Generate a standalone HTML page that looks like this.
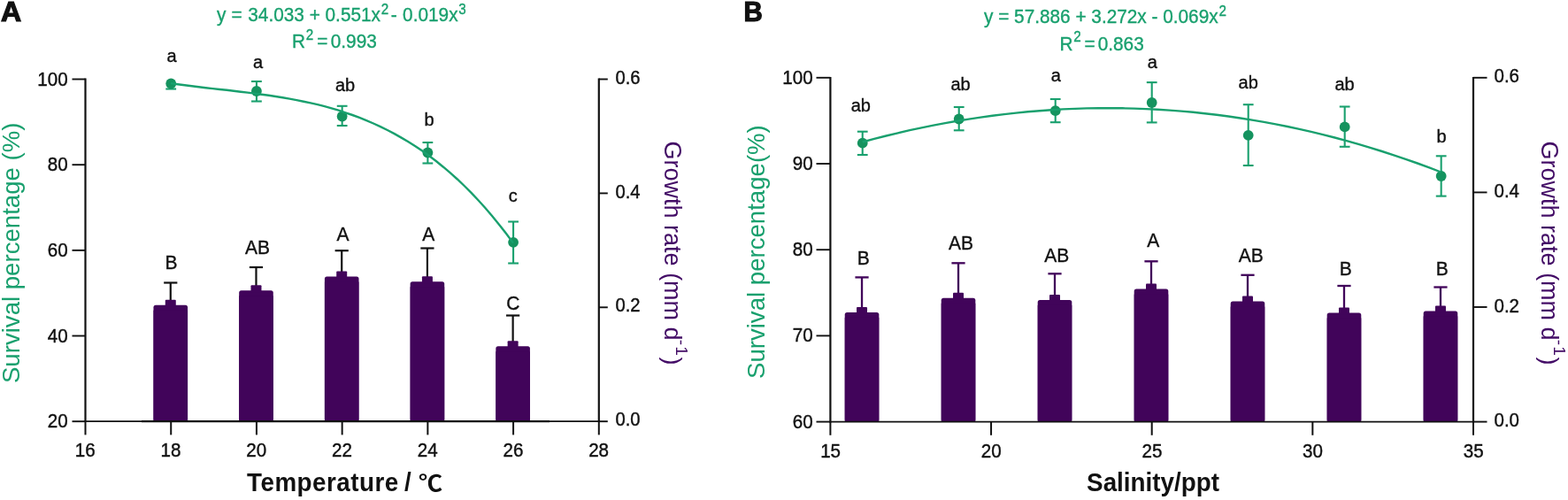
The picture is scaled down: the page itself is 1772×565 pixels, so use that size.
<!DOCTYPE html>
<html lang="en">
<head>
<meta charset="utf-8">
<title>Survival percentage and growth rate</title>
<style>
html, body { margin: 0; padding: 0; background: #ffffff; }
body { width: 1772px; height: 565px; overflow: hidden; font-family: "Liberation Sans", sans-serif; }
svg { display: block; }
svg text { font-family: "Liberation Sans", sans-serif; }
svg .cjk { font-family: "Liberation Sans", "Noto Sans CJK SC", sans-serif; }
</style>
</head>
<body>
<svg width="1772" height="565" viewBox="0 0 1772 565">
<rect width="1772" height="565" fill="#ffffff"/>
<g id="panelA">
<g class="bars">
<rect x="173.47" y="344.7" width="38.6" height="131.5" rx="2.5" fill="#41045a"/>
<rect x="173.47" y="350.7" width="38.6" height="125.5" fill="#41045a"/>
<line x1="192.77" y1="319.5" x2="192.77" y2="341.7" stroke="#111111" stroke-width="2.2"/>
<line x1="185.17" y1="319.5" x2="200.37" y2="319.5" stroke="#111111" stroke-width="2.2"/>
<rect x="186.77" y="338.7" width="12" height="8" rx="1" fill="#41045a"/>
<rect x="270.18" y="328.2" width="38.6" height="148" rx="2.5" fill="#41045a"/>
<rect x="270.18" y="334.2" width="38.6" height="142" fill="#41045a"/>
<line x1="289.48" y1="302" x2="289.48" y2="325.2" stroke="#111111" stroke-width="2.2"/>
<line x1="281.88" y1="302" x2="297.08" y2="302" stroke="#111111" stroke-width="2.2"/>
<rect x="283.48" y="322.2" width="12" height="8" rx="1" fill="#41045a"/>
<rect x="366.9" y="312.5" width="38.6" height="163.7" rx="2.5" fill="#41045a"/>
<rect x="366.9" y="318.5" width="38.6" height="157.7" fill="#41045a"/>
<line x1="386.2" y1="283.2" x2="386.2" y2="309.5" stroke="#111111" stroke-width="2.2"/>
<line x1="378.6" y1="283.2" x2="393.8" y2="283.2" stroke="#111111" stroke-width="2.2"/>
<rect x="380.2" y="306.5" width="12" height="8" rx="1" fill="#41045a"/>
<rect x="463.62" y="318.2" width="38.6" height="158" rx="2.5" fill="#41045a"/>
<rect x="463.62" y="324.2" width="38.6" height="152" fill="#41045a"/>
<line x1="482.92" y1="280.5" x2="482.92" y2="315.2" stroke="#111111" stroke-width="2.2"/>
<line x1="475.32" y1="280.5" x2="490.52" y2="280.5" stroke="#111111" stroke-width="2.2"/>
<rect x="476.92" y="312.2" width="12" height="8" rx="1" fill="#41045a"/>
<rect x="560.33" y="391.2" width="38.6" height="85" rx="2.5" fill="#41045a"/>
<rect x="560.33" y="397.2" width="38.6" height="79" fill="#41045a"/>
<line x1="579.63" y1="356.5" x2="579.63" y2="388.2" stroke="#111111" stroke-width="2.2"/>
<line x1="572.03" y1="356.5" x2="587.23" y2="356.5" stroke="#111111" stroke-width="2.2"/>
<rect x="573.63" y="385.2" width="12" height="8" rx="1" fill="#41045a"/>
</g>
<g class="axes">
<line x1="96.5" y1="88.6" x2="96.5" y2="477.1" stroke="#111111" stroke-width="2.2"/>
<line x1="676.8" y1="88.6" x2="676.8" y2="477.1" stroke="#111111" stroke-width="2.2"/>
<line x1="95.5" y1="476.2" x2="677.8" y2="476.2" stroke="#111111" stroke-width="1.8"/>
<line x1="160" y1="476.1" x2="621" y2="476.1" stroke="#111111" stroke-width="2.4"/>
<line x1="81.5" y1="476.2" x2="96.5" y2="476.2" stroke="#111111" stroke-width="1.9"/>
<text transform="translate(76.7 483.25) scale(1 1.075)" font-size="20.6" fill="#111111" text-anchor="end" stroke="#111111" stroke-width="0.4">20</text>
<line x1="81.5" y1="379.52" x2="96.5" y2="379.52" stroke="#111111" stroke-width="1.9"/>
<text transform="translate(76.7 386.57) scale(1 1.075)" font-size="20.6" fill="#111111" text-anchor="end" stroke="#111111" stroke-width="0.4">40</text>
<line x1="81.5" y1="282.85" x2="96.5" y2="282.85" stroke="#111111" stroke-width="1.9"/>
<text transform="translate(76.7 289.9) scale(1 1.075)" font-size="20.6" fill="#111111" text-anchor="end" stroke="#111111" stroke-width="0.4">60</text>
<line x1="81.5" y1="186.18" x2="96.5" y2="186.18" stroke="#111111" stroke-width="1.9"/>
<text transform="translate(76.7 193.23) scale(1 1.075)" font-size="20.6" fill="#111111" text-anchor="end" stroke="#111111" stroke-width="0.4">80</text>
<line x1="81.5" y1="89.5" x2="96.5" y2="89.5" stroke="#111111" stroke-width="1.9"/>
<text transform="translate(76.7 96.55) scale(1 1.075)" font-size="20.6" fill="#111111" text-anchor="end" stroke="#111111" stroke-width="0.4">100</text>
<line x1="676.8" y1="476.2" x2="686.8" y2="476.2" stroke="#111111" stroke-width="1.9"/>
<text transform="translate(695.4 481.3) scale(1 1.075)" font-size="20.200000000000003" fill="#111111" stroke="#111111" stroke-width="0.4">0.0</text>
<line x1="676.8" y1="347.3" x2="686.8" y2="347.3" stroke="#111111" stroke-width="1.9"/>
<text transform="translate(695.4 352.4) scale(1 1.075)" font-size="20.200000000000003" fill="#111111" stroke="#111111" stroke-width="0.4">0.2</text>
<line x1="676.8" y1="218.4" x2="686.8" y2="218.4" stroke="#111111" stroke-width="1.9"/>
<text transform="translate(695.4 223.5) scale(1 1.075)" font-size="20.200000000000003" fill="#111111" stroke="#111111" stroke-width="0.4">0.4</text>
<line x1="676.8" y1="89.5" x2="686.8" y2="89.5" stroke="#111111" stroke-width="1.9"/>
<text transform="translate(695.4 94.6) scale(1 1.075)" font-size="20.200000000000003" fill="#111111" stroke="#111111" stroke-width="0.4">0.6</text>
<line x1="96.5" y1="476.2" x2="96.5" y2="491.4" stroke="#111111" stroke-width="2"/>
<text transform="translate(96.3 516.2) scale(1 1.075)" font-size="20.6" fill="#111111" text-anchor="middle" stroke="#111111" stroke-width="0.4">16</text>
<line x1="193.22" y1="476.2" x2="193.22" y2="491.4" stroke="#111111" stroke-width="2"/>
<text transform="translate(193.02 516.2) scale(1 1.075)" font-size="20.6" fill="#111111" text-anchor="middle" stroke="#111111" stroke-width="0.4">18</text>
<line x1="289.93" y1="476.2" x2="289.93" y2="491.4" stroke="#111111" stroke-width="2"/>
<text transform="translate(289.73 516.2) scale(1 1.075)" font-size="20.6" fill="#111111" text-anchor="middle" stroke="#111111" stroke-width="0.4">20</text>
<line x1="386.65" y1="476.2" x2="386.65" y2="491.4" stroke="#111111" stroke-width="2"/>
<text transform="translate(386.45 516.2) scale(1 1.075)" font-size="20.6" fill="#111111" text-anchor="middle" stroke="#111111" stroke-width="0.4">22</text>
<line x1="483.37" y1="476.2" x2="483.37" y2="491.4" stroke="#111111" stroke-width="2"/>
<text transform="translate(483.17 516.2) scale(1 1.075)" font-size="20.6" fill="#111111" text-anchor="middle" stroke="#111111" stroke-width="0.4">24</text>
<line x1="580.08" y1="476.2" x2="580.08" y2="491.4" stroke="#111111" stroke-width="2"/>
<text transform="translate(579.88 516.2) scale(1 1.075)" font-size="20.6" fill="#111111" text-anchor="middle" stroke="#111111" stroke-width="0.4">26</text>
<line x1="676.8" y1="476.2" x2="676.8" y2="491.4" stroke="#111111" stroke-width="2"/>
<text transform="translate(676.6 516.2) scale(1 1.075)" font-size="20.6" fill="#111111" text-anchor="middle" stroke="#111111" stroke-width="0.4">28</text>
</g>
<g class="points">
<line x1="193.22" y1="94.5" x2="193.22" y2="100.5" stroke="#19a06e" stroke-width="2.1"/>
<line x1="187.32" y1="100.5" x2="199.12" y2="100.5" stroke="#19a06e" stroke-width="2.1"/>
<circle cx="193.22" cy="94.5" r="5.9" fill="#15935f"/>
<line x1="289.93" y1="92" x2="289.93" y2="114.5" stroke="#19a06e" stroke-width="2.1"/>
<line x1="284.03" y1="92" x2="295.83" y2="92" stroke="#19a06e" stroke-width="2.1"/>
<line x1="284.03" y1="114.5" x2="295.83" y2="114.5" stroke="#19a06e" stroke-width="2.1"/>
<circle cx="289.93" cy="103" r="5.9" fill="#15935f"/>
<line x1="386.65" y1="119.8" x2="386.65" y2="142" stroke="#19a06e" stroke-width="2.1"/>
<line x1="380.75" y1="119.8" x2="392.55" y2="119.8" stroke="#19a06e" stroke-width="2.1"/>
<line x1="380.75" y1="142" x2="392.55" y2="142" stroke="#19a06e" stroke-width="2.1"/>
<circle cx="386.65" cy="131.5" r="5.9" fill="#15935f"/>
<line x1="483.37" y1="161" x2="483.37" y2="184.5" stroke="#19a06e" stroke-width="2.1"/>
<line x1="477.47" y1="161" x2="489.27" y2="161" stroke="#19a06e" stroke-width="2.1"/>
<line x1="477.47" y1="184.5" x2="489.27" y2="184.5" stroke="#19a06e" stroke-width="2.1"/>
<circle cx="483.37" cy="172.5" r="5.9" fill="#15935f"/>
<line x1="580.08" y1="250.5" x2="580.08" y2="297.5" stroke="#19a06e" stroke-width="2.1"/>
<line x1="574.18" y1="250.5" x2="585.98" y2="250.5" stroke="#19a06e" stroke-width="2.1"/>
<line x1="574.18" y1="297.5" x2="585.98" y2="297.5" stroke="#19a06e" stroke-width="2.1"/>
<circle cx="580.08" cy="273.8" r="5.9" fill="#15935f"/>
</g>
<path d="M193.0,94.1 L200.9,95.2 L208.8,96.3 L216.7,97.3 L224.6,98.2 L232.5,99.2 L240.4,100.1 L248.3,101.0 L256.2,101.8 L264.1,102.7 L272.0,103.7 L279.9,104.6 L287.8,105.6 L295.7,106.7 L303.6,107.8 L311.5,109.0 L319.4,110.2 L327.3,111.6 L335.2,113.1 L343.1,114.7 L351.0,116.4 L358.9,118.2 L366.8,120.2 L374.7,122.4 L382.6,124.7 L390.4,127.3 L398.3,130.0 L406.2,132.9 L414.1,136.1 L422.0,139.5 L429.9,143.1 L437.8,147.0 L445.7,151.1 L453.6,155.6 L461.5,160.3 L469.4,165.3 L477.3,170.6 L485.2,176.3 L493.1,182.3 L501.0,188.7 L508.9,195.4 L516.8,202.5 L524.7,210.0 L532.6,217.9 L540.5,226.3 L548.4,235.0 L556.3,244.2 L564.2,253.9 L572.1,264.0 L580.0,274.6" fill="none" stroke="#19a06e" stroke-width="2.4"/>
<g class="letters">
<text x="194.1" y="69.7" font-size="20.0" fill="#111111" text-anchor="middle" stroke="#111111" stroke-width="0.35">a</text>
<text x="291.5" y="77" font-size="20.0" fill="#111111" text-anchor="middle" stroke="#111111" stroke-width="0.35">a</text>
<text x="390" y="103.1" font-size="20.0" fill="#111111" text-anchor="middle" stroke="#111111" stroke-width="0.35">ab</text>
<text x="485" y="142.4" font-size="20.0" fill="#111111" text-anchor="middle" stroke="#111111" stroke-width="0.35">b</text>
<text x="579.7" y="228" font-size="20.0" fill="#111111" text-anchor="middle" stroke="#111111" stroke-width="0.35">c</text>
<text transform="translate(193.4 303.8) scale(1 1.07)" font-size="21.0" fill="#111111" text-anchor="middle" stroke="#111111" stroke-width="0.35">B</text>
<text transform="translate(290.9 287.1) scale(1 1.07)" font-size="21.0" fill="#111111" text-anchor="middle" stroke="#111111" stroke-width="0.35">AB</text>
<text transform="translate(387.4 271.5) scale(1 1.07)" font-size="21.0" fill="#111111" text-anchor="middle" stroke="#111111" stroke-width="0.35">A</text>
<text transform="translate(484.3 271.5) scale(1 1.07)" font-size="21.0" fill="#111111" text-anchor="middle" stroke="#111111" stroke-width="0.35">A</text>
<text transform="translate(579.7 349.8) scale(1 1.07)" font-size="21.0" fill="#111111" text-anchor="middle" stroke="#111111" stroke-width="0.35">C</text>
</g>
</g>
<g id="panelB">
<g class="bars">
<rect x="954.73" y="352.9" width="38.6" height="123.7" rx="2.5" fill="#41045a"/>
<rect x="954.73" y="358.9" width="38.6" height="117.7" fill="#41045a"/>
<line x1="974.03" y1="313.4" x2="974.03" y2="349.9" stroke="#41045a" stroke-width="2.3"/>
<line x1="966.43" y1="313.4" x2="981.63" y2="313.4" stroke="#41045a" stroke-width="2.3"/>
<rect x="968.03" y="346.9" width="12" height="8" rx="1" fill="#41045a"/>
<rect x="1063.72" y="336.8" width="38.6" height="139.8" rx="2.5" fill="#41045a"/>
<rect x="1063.72" y="342.8" width="38.6" height="133.8" fill="#41045a"/>
<line x1="1083.02" y1="297.3" x2="1083.02" y2="333.8" stroke="#41045a" stroke-width="2.3"/>
<line x1="1075.42" y1="297.3" x2="1090.62" y2="297.3" stroke="#41045a" stroke-width="2.3"/>
<rect x="1077.02" y="330.8" width="12" height="8" rx="1" fill="#41045a"/>
<rect x="1172.71" y="338.9" width="38.6" height="137.7" rx="2.5" fill="#41045a"/>
<rect x="1172.71" y="344.9" width="38.6" height="131.7" fill="#41045a"/>
<line x1="1192.01" y1="309.3" x2="1192.01" y2="335.9" stroke="#41045a" stroke-width="2.3"/>
<line x1="1184.41" y1="309.3" x2="1199.61" y2="309.3" stroke="#41045a" stroke-width="2.3"/>
<rect x="1186.01" y="332.9" width="12" height="8" rx="1" fill="#41045a"/>
<rect x="1281.7" y="326.6" width="38.6" height="150" rx="2.5" fill="#41045a"/>
<rect x="1281.7" y="332.6" width="38.6" height="144" fill="#41045a"/>
<line x1="1301" y1="295.3" x2="1301" y2="323.6" stroke="#41045a" stroke-width="2.3"/>
<line x1="1293.4" y1="295.3" x2="1308.6" y2="295.3" stroke="#41045a" stroke-width="2.3"/>
<rect x="1295" y="320.6" width="12" height="8" rx="1" fill="#41045a"/>
<rect x="1390.69" y="340.6" width="38.6" height="136" rx="2.5" fill="#41045a"/>
<rect x="1390.69" y="346.6" width="38.6" height="130" fill="#41045a"/>
<line x1="1409.99" y1="310.8" x2="1409.99" y2="337.6" stroke="#41045a" stroke-width="2.3"/>
<line x1="1402.39" y1="310.8" x2="1417.59" y2="310.8" stroke="#41045a" stroke-width="2.3"/>
<rect x="1403.99" y="334.6" width="12" height="8" rx="1" fill="#41045a"/>
<rect x="1499.68" y="353.4" width="38.6" height="123.2" rx="2.5" fill="#41045a"/>
<rect x="1499.68" y="359.4" width="38.6" height="117.2" fill="#41045a"/>
<line x1="1518.98" y1="323" x2="1518.98" y2="350.4" stroke="#41045a" stroke-width="2.3"/>
<line x1="1511.38" y1="323" x2="1526.58" y2="323" stroke="#41045a" stroke-width="2.3"/>
<rect x="1512.98" y="347.4" width="12" height="8" rx="1" fill="#41045a"/>
<rect x="1608.67" y="351.4" width="38.6" height="125.2" rx="2.5" fill="#41045a"/>
<rect x="1608.67" y="357.4" width="38.6" height="119.2" fill="#41045a"/>
<line x1="1627.97" y1="324.5" x2="1627.97" y2="348.4" stroke="#41045a" stroke-width="2.3"/>
<line x1="1620.37" y1="324.5" x2="1635.57" y2="324.5" stroke="#41045a" stroke-width="2.3"/>
<rect x="1621.97" y="345.4" width="12" height="8" rx="1" fill="#41045a"/>
</g>
<g class="axes">
<line x1="938.4" y1="86.9" x2="938.4" y2="477.5" stroke="#111111" stroke-width="2.2"/>
<line x1="1665" y1="86.9" x2="1665" y2="477.5" stroke="#111111" stroke-width="2.2"/>
<line x1="937.4" y1="476.6" x2="1666" y2="476.6" stroke="#111111" stroke-width="1.8"/>
<line x1="922.5" y1="476.6" x2="938.4" y2="476.6" stroke="#111111" stroke-width="1.9"/>
<text transform="translate(918.6 483.65) scale(1 1.075)" font-size="20.6" fill="#111111" text-anchor="end" stroke="#111111" stroke-width="0.4">60</text>
<line x1="922.5" y1="379.4" x2="938.4" y2="379.4" stroke="#111111" stroke-width="1.9"/>
<text transform="translate(918.6 386.45) scale(1 1.075)" font-size="20.6" fill="#111111" text-anchor="end" stroke="#111111" stroke-width="0.4">70</text>
<line x1="922.5" y1="282.2" x2="938.4" y2="282.2" stroke="#111111" stroke-width="1.9"/>
<text transform="translate(918.6 289.25) scale(1 1.075)" font-size="20.6" fill="#111111" text-anchor="end" stroke="#111111" stroke-width="0.4">80</text>
<line x1="922.5" y1="185" x2="938.4" y2="185" stroke="#111111" stroke-width="1.9"/>
<text transform="translate(918.6 192.05) scale(1 1.075)" font-size="20.6" fill="#111111" text-anchor="end" stroke="#111111" stroke-width="0.4">90</text>
<line x1="922.5" y1="87.8" x2="938.4" y2="87.8" stroke="#111111" stroke-width="1.9"/>
<text transform="translate(918.6 94.85) scale(1 1.075)" font-size="20.6" fill="#111111" text-anchor="end" stroke="#111111" stroke-width="0.4">100</text>
<line x1="1665" y1="476.6" x2="1680.5" y2="476.6" stroke="#111111" stroke-width="1.9"/>
<text transform="translate(1688.5 482.1) scale(1 1.075)" font-size="20.500000000000004" fill="#111111" stroke="#111111" stroke-width="0.4">0.0</text>
<line x1="1665" y1="347" x2="1680.5" y2="347" stroke="#111111" stroke-width="1.9"/>
<text transform="translate(1688.5 352.5) scale(1 1.075)" font-size="20.500000000000004" fill="#111111" stroke="#111111" stroke-width="0.4">0.2</text>
<line x1="1665" y1="217.4" x2="1680.5" y2="217.4" stroke="#111111" stroke-width="1.9"/>
<text transform="translate(1688.5 222.9) scale(1 1.075)" font-size="20.500000000000004" fill="#111111" stroke="#111111" stroke-width="0.4">0.4</text>
<line x1="1665" y1="87.8" x2="1680.5" y2="87.8" stroke="#111111" stroke-width="1.9"/>
<text transform="translate(1688.5 93.3) scale(1 1.075)" font-size="20.500000000000004" fill="#111111" stroke="#111111" stroke-width="0.4">0.6</text>
<line x1="938.4" y1="476.6" x2="938.4" y2="491.8" stroke="#111111" stroke-width="2"/>
<text transform="translate(938.6 516.6) scale(1 1.075)" font-size="20.6" fill="#111111" text-anchor="middle" stroke="#111111" stroke-width="0.4">15</text>
<line x1="1120.05" y1="476.6" x2="1120.05" y2="491.8" stroke="#111111" stroke-width="2"/>
<text transform="translate(1120.25 516.6) scale(1 1.075)" font-size="20.6" fill="#111111" text-anchor="middle" stroke="#111111" stroke-width="0.4">20</text>
<line x1="1301.7" y1="476.6" x2="1301.7" y2="491.8" stroke="#111111" stroke-width="2"/>
<text transform="translate(1301.9 516.6) scale(1 1.075)" font-size="20.6" fill="#111111" text-anchor="middle" stroke="#111111" stroke-width="0.4">25</text>
<line x1="1483.35" y1="476.6" x2="1483.35" y2="491.8" stroke="#111111" stroke-width="2"/>
<text transform="translate(1483.55 516.6) scale(1 1.075)" font-size="20.6" fill="#111111" text-anchor="middle" stroke="#111111" stroke-width="0.4">30</text>
<line x1="1665" y1="476.6" x2="1665" y2="491.8" stroke="#111111" stroke-width="2"/>
<text transform="translate(1665.2 516.6) scale(1 1.075)" font-size="20.6" fill="#111111" text-anchor="middle" stroke="#111111" stroke-width="0.4">35</text>
</g>
<g class="points">
<line x1="974.73" y1="148.7" x2="974.73" y2="175" stroke="#19a06e" stroke-width="2.1"/>
<line x1="968.83" y1="148.7" x2="980.63" y2="148.7" stroke="#19a06e" stroke-width="2.1"/>
<line x1="968.83" y1="175" x2="980.63" y2="175" stroke="#19a06e" stroke-width="2.1"/>
<circle cx="974.73" cy="161.7" r="5.9" fill="#15935f"/>
<line x1="1083.72" y1="121" x2="1083.72" y2="147.3" stroke="#19a06e" stroke-width="2.1"/>
<line x1="1077.82" y1="121" x2="1089.62" y2="121" stroke="#19a06e" stroke-width="2.1"/>
<line x1="1077.82" y1="147.3" x2="1089.62" y2="147.3" stroke="#19a06e" stroke-width="2.1"/>
<circle cx="1083.72" cy="134.5" r="5.9" fill="#15935f"/>
<line x1="1192.71" y1="112" x2="1192.71" y2="138.2" stroke="#19a06e" stroke-width="2.1"/>
<line x1="1186.81" y1="112" x2="1198.61" y2="112" stroke="#19a06e" stroke-width="2.1"/>
<line x1="1186.81" y1="138.2" x2="1198.61" y2="138.2" stroke="#19a06e" stroke-width="2.1"/>
<circle cx="1192.71" cy="125.2" r="5.9" fill="#15935f"/>
<line x1="1301.7" y1="93.1" x2="1301.7" y2="138.4" stroke="#19a06e" stroke-width="2.1"/>
<line x1="1295.8" y1="93.1" x2="1307.6" y2="93.1" stroke="#19a06e" stroke-width="2.1"/>
<line x1="1295.8" y1="138.4" x2="1307.6" y2="138.4" stroke="#19a06e" stroke-width="2.1"/>
<circle cx="1301.7" cy="116" r="5.9" fill="#15935f"/>
<line x1="1410.69" y1="118.2" x2="1410.69" y2="187" stroke="#19a06e" stroke-width="2.1"/>
<line x1="1404.79" y1="118.2" x2="1416.59" y2="118.2" stroke="#19a06e" stroke-width="2.1"/>
<line x1="1404.79" y1="187" x2="1416.59" y2="187" stroke="#19a06e" stroke-width="2.1"/>
<circle cx="1410.69" cy="152.8" r="5.9" fill="#15935f"/>
<line x1="1519.68" y1="120.5" x2="1519.68" y2="165.8" stroke="#19a06e" stroke-width="2.1"/>
<line x1="1513.78" y1="120.5" x2="1525.58" y2="120.5" stroke="#19a06e" stroke-width="2.1"/>
<line x1="1513.78" y1="165.8" x2="1525.58" y2="165.8" stroke="#19a06e" stroke-width="2.1"/>
<circle cx="1519.68" cy="143.4" r="5.9" fill="#15935f"/>
<line x1="1628.67" y1="176.3" x2="1628.67" y2="221.6" stroke="#19a06e" stroke-width="2.1"/>
<line x1="1622.77" y1="176.3" x2="1634.57" y2="176.3" stroke="#19a06e" stroke-width="2.1"/>
<line x1="1622.77" y1="221.6" x2="1634.57" y2="221.6" stroke="#19a06e" stroke-width="2.1"/>
<circle cx="1628.67" cy="199" r="5.9" fill="#15935f"/>
</g>
<path d="M974.7,160.5 L988.0,156.9 L1001.4,153.5 L1014.7,150.3 L1028.1,147.2 L1041.4,144.4 L1054.8,141.6 L1068.1,139.1 L1081.4,136.7 L1094.8,134.6 L1108.1,132.6 L1121.5,130.7 L1134.8,129.1 L1148.2,127.6 L1161.5,126.3 L1174.8,125.2 L1188.2,124.2 L1201.5,123.4 L1214.9,122.9 L1228.2,122.4 L1241.6,122.2 L1254.9,122.2 L1268.2,122.3 L1281.6,122.6 L1294.9,123.1 L1308.3,123.7 L1321.6,124.6 L1335.0,125.6 L1348.3,126.8 L1361.6,128.2 L1375.0,129.8 L1388.3,131.5 L1401.7,133.5 L1415.0,135.6 L1428.4,137.9 L1441.7,140.4 L1455.0,143.0 L1468.4,145.9 L1481.7,148.9 L1495.1,152.1 L1508.4,155.5 L1521.8,159.1 L1535.1,162.9 L1548.4,166.9 L1561.8,171.0 L1575.1,175.3 L1588.5,179.8 L1601.8,184.5 L1615.2,189.4 L1628.5,194.5" fill="none" stroke="#19a06e" stroke-width="2.4"/>
<g class="letters">
<text x="972.8" y="125.7" font-size="20.0" fill="#111111" text-anchor="middle" stroke="#111111" stroke-width="0.35">ab</text>
<text x="1085.5" y="101.8" font-size="20.0" fill="#111111" text-anchor="middle" stroke="#111111" stroke-width="0.35">ab</text>
<text x="1193.3" y="92.1" font-size="20.0" fill="#111111" text-anchor="middle" stroke="#111111" stroke-width="0.35">a</text>
<text x="1302.2" y="76.5" font-size="20.0" fill="#111111" text-anchor="middle" stroke="#111111" stroke-width="0.35">a</text>
<text x="1410.7" y="100.1" font-size="20.0" fill="#111111" text-anchor="middle" stroke="#111111" stroke-width="0.35">ab</text>
<text x="1519.5" y="101.7" font-size="20.0" fill="#111111" text-anchor="middle" stroke="#111111" stroke-width="0.35">ab</text>
<text x="1629.1" y="161.1" font-size="20.0" fill="#111111" text-anchor="middle" stroke="#111111" stroke-width="0.35">b</text>
<text transform="translate(975.8 299.2) scale(1 1.07)" font-size="21.0" fill="#111111" text-anchor="middle" stroke="#111111" stroke-width="0.35">B</text>
<text transform="translate(1086 282.2) scale(1 1.07)" font-size="21.0" fill="#111111" text-anchor="middle" stroke="#111111" stroke-width="0.35">AB</text>
<text transform="translate(1194.3 295.7) scale(1 1.07)" font-size="21.0" fill="#111111" text-anchor="middle" stroke="#111111" stroke-width="0.35">AB</text>
<text transform="translate(1303.3 278.7) scale(1 1.07)" font-size="21.0" fill="#111111" text-anchor="middle" stroke="#111111" stroke-width="0.35">A</text>
<text transform="translate(1413.7 296.2) scale(1 1.07)" font-size="21.0" fill="#111111" text-anchor="middle" stroke="#111111" stroke-width="0.35">AB</text>
<text transform="translate(1520.8 311.2) scale(1 1.07)" font-size="21.0" fill="#111111" text-anchor="middle" stroke="#111111" stroke-width="0.35">B</text>
<text transform="translate(1629.7 311.3) scale(1 1.07)" font-size="21.0" fill="#111111" text-anchor="middle" stroke="#111111" stroke-width="0.35">B</text>
</g>
</g>
<g class="panel-labels">
<text transform="translate(0.9,23.6) scale(1.035,1)" font-size="31" font-weight="bold" fill="#111111" stroke="#111111" stroke-width="1.2">A</text>
<text transform="translate(840.4,23.6) scale(0.95,1)" font-size="31" font-weight="bold" fill="#111111" stroke="#111111" stroke-width="1.2">B</text>
</g>
<g class="equations">
<text transform="translate(245 23.9) scale(1 1.075)" font-size="20.8" fill="#19a06e" stroke="#19a06e" stroke-width="0.35">y <tspan dx="0.4">=</tspan> <tspan dx="0.8">34.033</tspan> + 0.551x<tspan dx="0.8" dy="-7.4" font-size="15.2">2</tspan><tspan dx="-3.2" dy="7.4"> - </tspan><tspan dx="0.6">0.019x</tspan><tspan dx="0.8" dy="-7.4" font-size="15.2">3</tspan></text>
<text transform="translate(330 54.2) scale(1 1.075)" font-size="20.8" fill="#19a06e" stroke="#19a06e" stroke-width="0.35">R<tspan dx="0.7" dy="-8.8" font-size="15.2">2</tspan><tspan dx="-1.6" dy="8.8"> =</tspan><tspan dx="-2.5"> 0.993</tspan></text>
<text transform="translate(1112 26.1) scale(1 1.075)" font-size="20.8" fill="#19a06e" stroke="#19a06e" stroke-width="0.35">y = 57.886 + 3.272x - 0.069x<tspan dx="1" dy="-7.4" font-size="15.2">2</tspan></text>
<text transform="translate(1197.5 57.2) scale(1 1.075)" font-size="20.8" fill="#19a06e" stroke="#19a06e" stroke-width="0.35">R<tspan dx="0.7" dy="-9.2" font-size="15.2">2</tspan><tspan dx="-1.9" dy="9.2"> =</tspan><tspan dx="-2.8"> 0.863</tspan></text>
</g>
<g class="axis-labels">
<text transform="translate(22.3,285.8) rotate(-90)" font-size="27.6" fill="#19a06e" text-anchor="middle">Survival percentage (%)</text>
<text transform="translate(750.7,286) rotate(90)" font-size="27" fill="#430c66" text-anchor="middle">Growth rate (mm d<tspan dx="-0.8" dy="-13.8" font-size="19" letter-spacing="1.2">-1</tspan><tspan dx="0.3" dy="13.8">)</tspan></text>
<text transform="translate(864.1,284.6) rotate(-90)" font-size="27.6" fill="#19a06e" text-anchor="middle">Survival percentage(%)</text>
<text transform="translate(1741.8,286) rotate(90)" font-size="27" fill="#430c66" text-anchor="middle">Growth rate (mm d<tspan dx="-0.8" dy="-13.8" font-size="19" letter-spacing="1.2">-1</tspan><tspan dx="0.3" dy="13.8">)</tspan></text>
<text transform="translate(279 555.3) scale(1 1.04)" font-size="27.8" font-weight="bold" letter-spacing="0.5" fill="#111111">Temperature <tspan dx="-2">/</tspan></text>
<text transform="translate(473 555.4) scale(1.1 1)" font-size="24.6" font-weight="bold" class="cjk" fill="#111111">℃</text>
<text transform="translate(1303 555.3) scale(1 1.04)" font-size="27.8" font-weight="bold" text-anchor="middle" fill="#111111">Salinity/ppt</text>
</g>
</svg>
</body>
</html>
